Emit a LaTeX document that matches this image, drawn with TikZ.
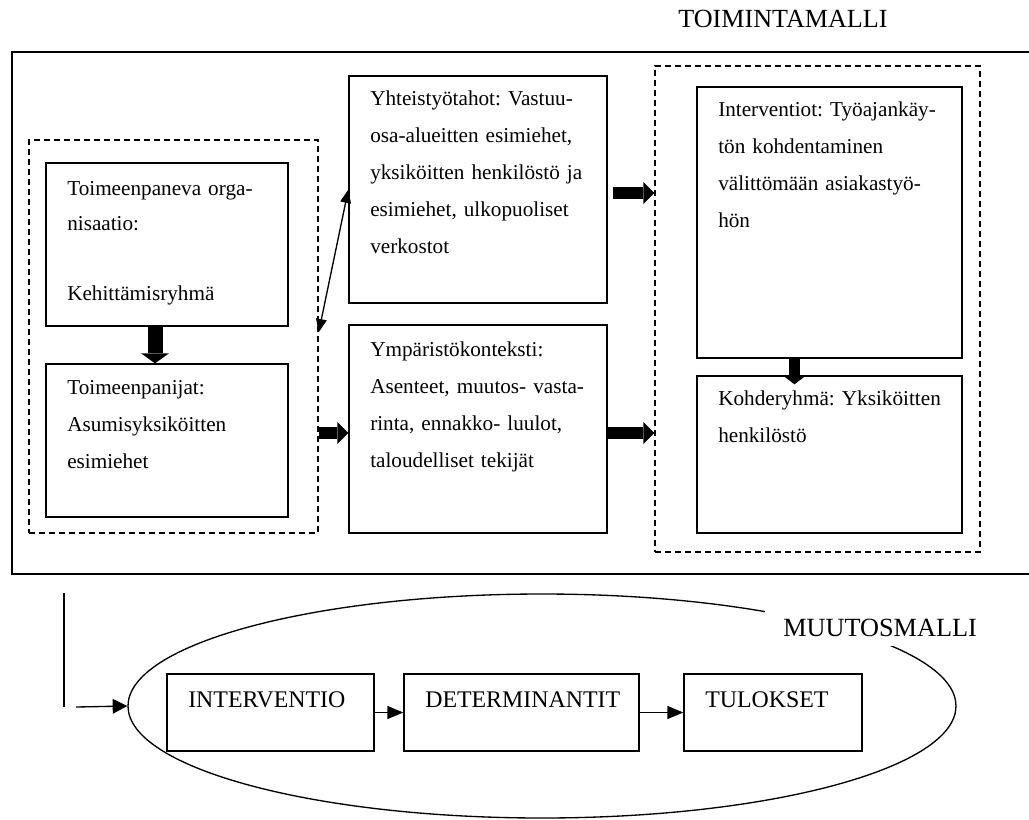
\documentclass[tikz,border=0pt]{standalone}
\usepackage{fontspec}
\setmainfont{Liberation Serif}
\usetikzlibrary{arrows.meta,calc,shapes.geometric,fit}
\frenchspacing
\begin{document}
\begin{tikzpicture}[x=0.75pt,y=-0.75pt,
  box/.style={draw, line width=1pt, rectangle, inner sep=0pt},
  dbox/.style={draw, line width=1pt, dash pattern=on 4.5pt off 3pt, rectangle, inner sep=0pt},
  txt/.style={anchor=base west, inner sep=0pt, align=left, text width=240pt, font=\fontsize{15.9}{27.75}\selectfont\frenchspacing},
  captxt/.style={anchor=base west, inner sep=0pt, font=\fontsize{17.9}{20}\selectfont},
  bigtxt/.style={anchor=base west, inner sep=0pt, font=\fontsize{19.6}{22}\selectfont},
  fatH/.style={line width=9pt, -{Triangle[width=16.5pt,length=8.25pt,line width=0pt]}},
  fatA/.style={line width=11.25pt, -{Triangle[width=21pt,length=7.5pt,line width=0pt]}},
  fatE/.style={line width=8.25pt, -{Triangle[width=15.75pt,length=6pt,line width=0pt]}},
  thinarr/.style={line width=1pt, -{Triangle[width=9.75pt,length=12pt]}},
  dblarr/.style={line width=1pt, {Triangle[width=8pt,length=10pt]}-{Triangle[width=8pt,length=10pt]}}
]
\fill[white] (0,0) rectangle (1029,819);
\useasboundingbox (0,0) rectangle (1029,819);

% outer frame (open on the right)
\draw[line width=1.2pt] (1029,52) -- (12,52) -- (12,574) -- (1029,574);
\node[bigtxt] (toim) at (678,27) {TOIMINTAMALLI};

% dashed groups
\node[dbox, fit={(29,140) (318,533)}] (L) {};
\node[dbox, fit={(655,66) (980,552)}] (R) {};

% boxes
\node[box, fit={(46,163) (288,326)}] (A) {};
\node[box, fit={(46,364) (288,517)}] (B) {};
\node[box, fit={(349,76) (607,303)}] (C) {};
\node[box, fit={(349,325) (607,533)}] (D) {};
\node[box, fit={(697,87) (962,358)}] (E) {};
\node[box, fit={(697,376) (962,533)}] (F) {};

% texts
\node[txt, font=\fontsize{15.9}{26.25}\selectfont\frenchspacing] (Atxt) at (67,195) {Toimeenpaneva orga-\\nisaatio:\\[26.25pt]Kehittämisryhmä};
\node[txt] (Btxt) at (67,394) {Toimeenpanijat:\\Asumisyksiköitten\\esimiehet};
\node[txt] (Ctxt) at (370,105) {Yhteistyötahot: Vastuu-\\osa-alueitten esimiehet,\\yksiköitten henkilöstö ja\\esimiehet, ulkopuoliset\\verkostot};
\node[txt] (Dtxt) at (370,356) {Ympäristökonteksti:\\Asenteet, muutos- vasta-\\rinta, ennakko- luulot,\\taloudelliset tekijät};
\node[txt] (Etxt) at (718,116) {Interventiot: Työajankäy-\\tön kohdentaminen\\välittömään asiakastyö-\\hön};
\node[txt] (Ftxt) at (718,405) {Kohderyhmä: Yksiköitten\\henkilöstö};

% thick arrows
\draw[fatA] ($(A.south)+(-12,0)$) -- ($(B.north)+(-12,0)$);
\draw[fatH] ($(L.east |- D.west)+(0,4)$) -- ($(D.west)+(0,4)$);
\draw[fatH] ($(D.east)+(0,4)$) -- ($(R.west |- D.east)+(0,4)$);
\draw[fatH] ($(C.east)+(5,3.5)$) -- ($(C.east -| R.west)+(0,3.5)$);
\draw[fatE] ($(E.south)+(-35,0)$) -- ($(F.north)+(-35,9)$);
\draw[dblarr] ($(L.north east)+(0,193)$) -- (C.west);

% change model
\node[draw, line width=1pt, ellipse, inner sep=0pt, minimum width=621pt, minimum height=168pt] (M) at (542,706) {};
\node[anchor=base west, fill=white, inner xsep=13.5pt, inner ysep=7.5pt, font=\fontsize{19.7}{22}\selectfont] (muut) at (765,636) {MUUTOSMALLI};

\node[box, fit={(167,674) (374,751)}] (I1) {};
\node[box, fit={(404,674) (639,751)}] (I2) {};
\node[box, fit={(684,674) (862,751)}] (I3) {};
\node[captxt] (I1txt) at (188,707) {INTERVENTIO};
\node[captxt] (I2txt) at (425,707) {DETERMINANTIT};
\node[captxt] (I3txt) at (705,707) {TULOKSET};
\draw[thinarr] (I1.east) -- (I2.west);
\draw[thinarr] (I2.east) -- (I3.west);

\coordinate (v1) at (64,593);
\coordinate (v2) at (64,707);
\coordinate (h0) at (76,707);
\draw[line width=1pt] (v1) -- (v2);
\draw[line width=1pt, -{Triangle[width=11pt,length=11pt]}] (h0) -- (M.west);
\end{tikzpicture}
\end{document}
